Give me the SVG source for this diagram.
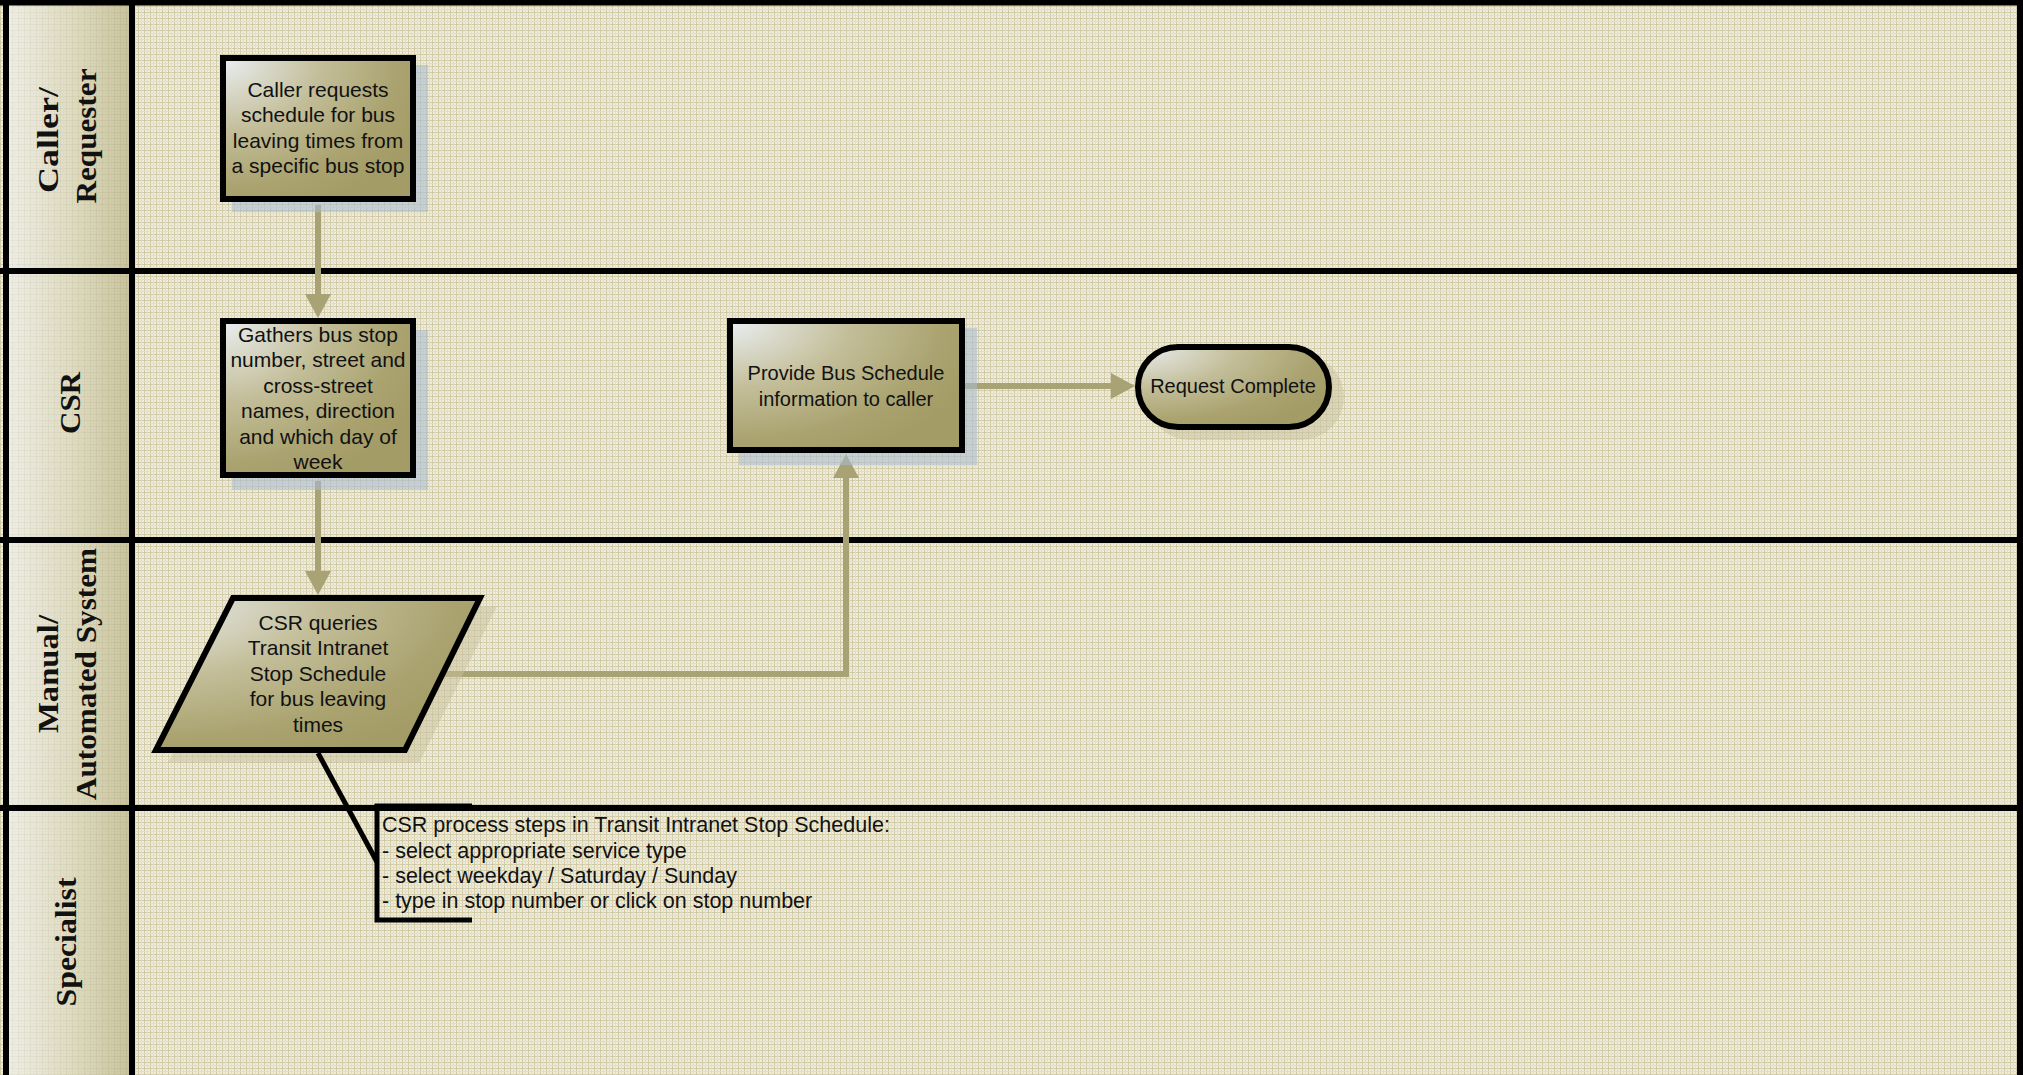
<svg xmlns="http://www.w3.org/2000/svg" width="2023" height="1075" viewBox="0 0 2023 1075">
<style>
.lane{stroke:#000;stroke-width:6;fill:none}
.hdr{font-family:"Liberation Serif","Times New Roman",serif;font-weight:bold;font-size:30px;fill:#111;text-anchor:middle}
.box{stroke:#000;stroke-width:6;fill:url(#boxfill)}
.lbl{font-family:"Liberation Sans",Arial,sans-serif;font-size:21px;fill:#111;text-anchor:middle}
.lbl20{font-size:20px}
.note{font-family:"Liberation Sans",Arial,sans-serif;font-size:21.5px;fill:#111}
.conn{stroke:#a8a274;stroke-width:6;fill:none;marker-end:url(#arr)}
.sh-blue{fill:#a9bbd6;opacity:0.55}
.sh-beige{fill:#c9c29b;opacity:0.5}
</style>
<defs>
<pattern id="grid" width="6" height="6" patternUnits="userSpaceOnUse">
<rect width="6" height="6" fill="#efecdc"/>
<path d="M0 0.5H6M0.5 0V6" stroke="#cfc9a6" stroke-width="1"/>
<path d="M0 3.5H6M3.5 0V6" stroke="#e2dec6" stroke-width="1"/>
</pattern>
<linearGradient id="hdrfill" x1="0" y1="0" x2="1" y2="0">
<stop offset="0" stop-color="#eef0ee"/>
<stop offset="0.55" stop-color="#d6d3b7"/>
<stop offset="1" stop-color="#b6b083"/>
</linearGradient>
<radialGradient id="boxfill" cx="0" cy="0" r="1.15" fx="0" fy="0">
<stop offset="0" stop-color="#eaeef1"/>
<stop offset="0.45" stop-color="#c3be99"/>
<stop offset="0.8" stop-color="#aaa370"/>
<stop offset="1" stop-color="#a39c66"/>
</radialGradient>
<marker id="arr" markerUnits="userSpaceOnUse" markerWidth="24" markerHeight="26" viewBox="0 0 24 26" refX="1" refY="13" orient="auto">
<path d="M0 0L24 13L0 26Z" fill="#a8a274"/>
</marker>
</defs>

<rect width="2023" height="1075" fill="url(#grid)"/>

<g id="lanes">
<rect x="9" y="5" width="120" height="1070" fill="url(#hdrfill)"/>
<rect x="9" y="5" width="120" height="1070" fill="url(#grid)" opacity="0.35"/>
<path class="lane" d="M0 2.5H2023M0 271H2023M0 540H2023M0 808H2023M6 0V1075M132 0V1075M2020 0V1075"/>
<text class="hdr" transform="translate(58,140) rotate(-90)" textLength="106" lengthAdjust="spacingAndGlyphs">Caller/</text>
<text class="hdr" transform="translate(96,136) rotate(-90)" textLength="135" lengthAdjust="spacingAndGlyphs">Requester</text>
<text class="hdr" transform="translate(80,403) rotate(-90)" textLength="62" lengthAdjust="spacingAndGlyphs">CSR</text>
<text class="hdr" transform="translate(58,674) rotate(-90)" textLength="118" lengthAdjust="spacingAndGlyphs">Manual/</text>
<text class="hdr" transform="translate(96,674) rotate(-90)" textLength="252" lengthAdjust="spacingAndGlyphs">Automated System</text>
<text class="hdr" transform="translate(76,942) rotate(-90)" textLength="129" lengthAdjust="spacingAndGlyphs">Specialist</text>
</g>

<g id="connectors">
<path class="conn" d="M318 205V295"/>
<path class="conn" d="M318 481V572"/>
<path class="conn" d="M443 674H846V477"/>
<path class="conn" d="M965 386H1112"/>
</g>

<g id="n1">
<rect class="sh-blue" x="232" y="65" width="196" height="147"/>
<rect class="box" x="223" y="58" width="190" height="141"/>
<text class="lbl" x="318" y="97">Caller requests</text>
<text class="lbl" x="318" y="122">schedule for bus</text>
<text class="lbl" x="318" y="148">leaving times from</text>
<text class="lbl" x="318" y="173">a specific bus stop</text>
</g>

<g id="n2">
<rect class="sh-blue" x="232" y="330" width="196" height="160"/>
<rect class="box" x="223" y="321" width="190" height="154"/>
<text class="lbl" x="318" y="342">Gathers bus stop</text>
<text class="lbl" x="318" y="367">number, street and</text>
<text class="lbl" x="318" y="393">cross-street</text>
<text class="lbl" x="318" y="418">names, direction</text>
<text class="lbl" x="318" y="444">and which day of</text>
<text class="lbl" x="318" y="469">week</text>
</g>

<g id="n3">
<polygon class="sh-beige" points="245,606 497,606 419,763 168,763"/>
<polygon class="box" points="233,598 480,598 405,750 156,750"/>
<text class="lbl" x="318" y="630">CSR queries</text>
<text class="lbl" x="318" y="655">Transit Intranet</text>
<text class="lbl" x="318" y="681">Stop Schedule</text>
<text class="lbl" x="318" y="706">for bus leaving</text>
<text class="lbl" x="318" y="732">times</text>
</g>

<g id="n4">
<rect class="sh-blue" x="739" y="328" width="238" height="137"/>
<rect class="box" x="730" y="321" width="232" height="129"/>
<text class="lbl lbl20" x="846" y="380">Provide Bus Schedule</text>
<text class="lbl lbl20" x="846" y="406">information to caller</text>
</g>

<g id="n5">
<rect class="sh-beige" x="1147" y="354" width="197" height="86" rx="43"/>
<rect class="box" x="1138" y="347" width="191" height="80" rx="40"/>
<text class="lbl lbl20" x="1233" y="393">Request Complete</text>
</g>

<g id="note">
<path d="M318 753L377 862" stroke="#000" stroke-width="5" fill="none"/>
<path d="M472 806H377V920H472" stroke="#000" stroke-width="5" fill="none"/>
<text class="note" x="382" y="832">CSR process steps in Transit Intranet Stop Schedule:</text>
<text class="note" x="382" y="858">- select appropriate service type</text>
<text class="note" x="382" y="883">- select weekday / Saturday / Sunday</text>
<text class="note" x="382" y="908">- type in stop number or click on stop number</text>
</g>
</svg>
